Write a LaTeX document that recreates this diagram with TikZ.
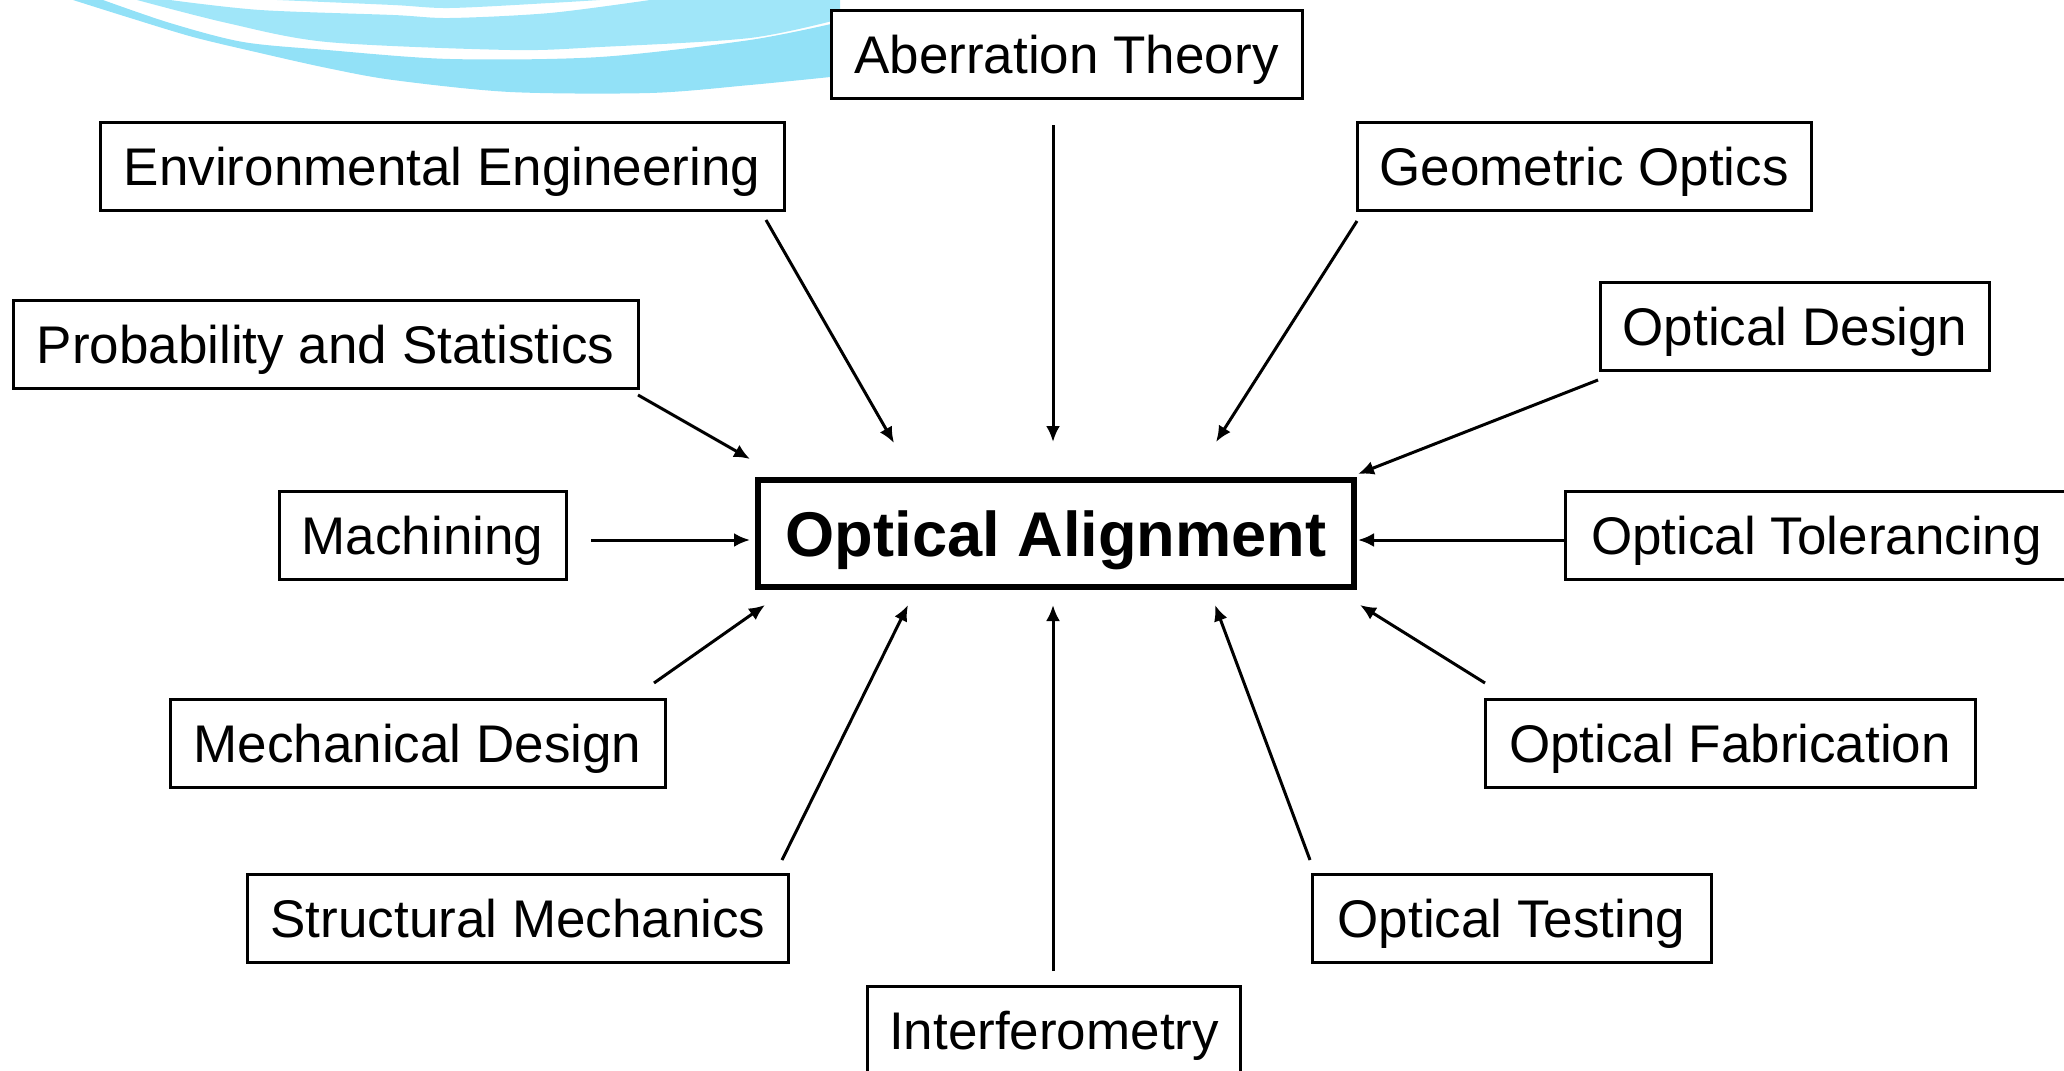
\documentclass[tikz,border=0pt]{standalone}
\usepackage{fontspec}
\setmainfont{Liberation Sans}
\usetikzlibrary{arrows.meta}
\definecolor{bandA}{HTML}{92E1F7}
\definecolor{bandB}{HTML}{A0E6F9}
\definecolor{bandC}{HTML}{A8E9FA}
\tikzset{
  topicbox/.style={draw=black, line width=1.5pt, fill=white, minimum height=44pt,
    inner sep=0pt, text height=19pt, text depth=0pt, font=\fontsize{26.5pt}{30pt}\selectfont},
  mainbox/.style={draw=black, line width=3.25pt, fill=white, minimum height=53.5pt,
    minimum width=298pt, inner sep=0pt, text height=22.6pt, text depth=0pt,
    font=\fontsize{31.6pt}{36pt}\selectfont\bfseries},
  feed/.style={line width=1.5pt, -{Latex[length=8pt,width=7pt]}}
}
\begin{document}
\begin{tikzpicture}[x=0.5pt,y=-0.5pt]
\useasboundingbox (0,0) rectangle (2064,1070);
% swoosh
\fill[bandA] plot[smooth] coordinates {(73,0) (127,17) (193,37) (260,53) (327,68) (393,80) (510,92) (650,93) (750,85) (840,76)}
  -- (840,22) -- plot[smooth] coordinates {(840,22) (750,40) (600,57) (450,59) (327,50) (243,42) (170,23) (103,0)} -- cycle;
\fill[bandB] plot[smooth] coordinates {(137,0) (227,23) (327,42) (510,50) (600,47) (750,38) (840,19)}
  -- (840,0) -- (650,0) -- plot[smooth] coordinates {(650,0) (550,13) (450,18) (393,15) (260,10) (170,0)} -- cycle;
\fill[bandC] plot[smooth] coordinates {(277,0) (393,5) (450,8) (550,3) (600,0)} -- cycle;

% nodes
\node[mainbox] (oa) at (1056,533.5) {Optical Alignment};
\node[topicbox, minimum width=235.5pt] (ab) at (1066.5,54.6) {Aberration Theory};
\node[topicbox, minimum width=342pt] (env) at (442,166) {Environmental Engineering};
\node[topicbox, minimum width=227pt] (geo) at (1584,166) {Geometric Optics};
\node[topicbox, minimum width=312.5pt] (prob) at (325.5,344) {Probability and Statistics};
\node[topicbox, minimum width=194.5pt] (od) at (1795,326) {Optical Design};
\node[topicbox, minimum width=143.5pt] (mach) at (422.5,535) {Machining};
\node[topicbox, minimum width=251.5pt] (tol) at (1816.5,535) {Optical Tolerancing};
\node[topicbox, minimum width=247.5pt] (mech) at (417.5,743) {Mechanical Design};
\node[topicbox, minimum width=245pt] (fab) at (1730,743) {Optical Fabrication};
\node[topicbox, minimum width=270.5pt] (str) at (518,918) {Structural Mechanics};
\node[topicbox, minimum width=199.5pt] (test) at (1511.5,918) {Optical Testing};
\node[topicbox, minimum width=186.5pt] (int) at (1054,1030) {Interferometry};

% connector end points
\coordinate (s1) at (1053,125);  \coordinate (e1) at (1053,442);
\coordinate (s2) at (766,220);   \coordinate (e2) at (894,443);
\coordinate (s3) at (1357,221);  \coordinate (e3) at (1216,442);
\coordinate (s4) at (638,395);   \coordinate (e4) at (750,459);
\coordinate (s5) at (1598,380);  \coordinate (e5) at (1358,474);
\coordinate (s6) at (591,540);   \coordinate (e6) at (750,540);
\coordinate (s7) at (1565,540);  \coordinate (e7) at (1358,540);
\coordinate (s8) at (654,683);   \coordinate (e8) at (765,605);
\coordinate (s9) at (782,860);   \coordinate (e9) at (908,605);
\coordinate (s10) at (1053,971); \coordinate (e10) at (1053,605);
\coordinate (s11) at (1310,860); \coordinate (e11) at (1215,605);
\coordinate (s12) at (1485,683); \coordinate (e12) at (1360,605);

\foreach \i in {1,...,12} \draw[feed] (s\i) -- (e\i);
\end{tikzpicture}
\end{document}
